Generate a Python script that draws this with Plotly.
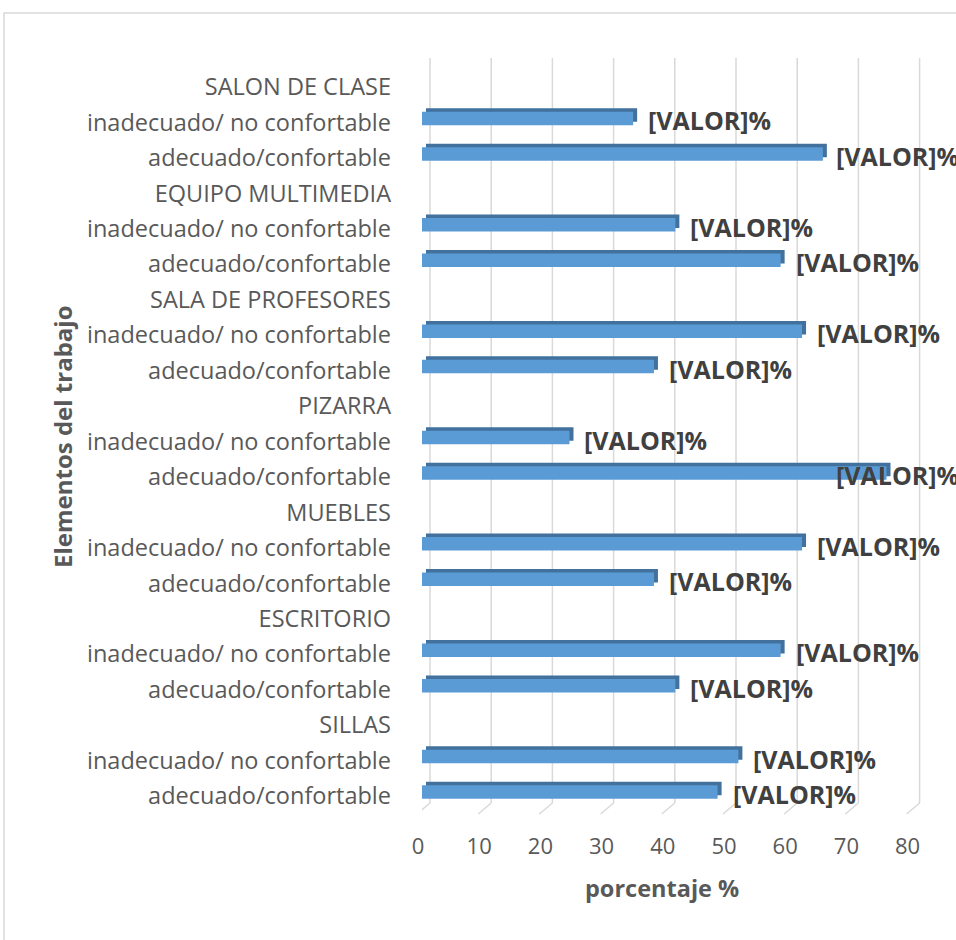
import plotly.graph_objects as go

# ---- data (bottom row first) ----
labels = [
    "adecuado/confortable", "inadecuado/ no confortable", "SILLAS",
    "adecuado/confortable", "inadecuado/ no confortable", "ESCRITORIO",
    "adecuado/confortable", "inadecuado/ no confortable", "MUEBLES",
    "adecuado/confortable", "inadecuado/ no confortable", "PIZARRA",
    "adecuado/confortable", "inadecuado/ no confortable", "SALA DE PROFESORES",
    "adecuado/confortable", "inadecuado/ no confortable", "EQUIPO MULTIMEDIA",
    "adecuado/confortable", "inadecuado/ no confortable", "SALON DE CLASE",
]
values = [
    48.3, 51.7, None,
    41.4, 58.6, None,
    37.9, 62.1, None,
    75.9, 24.1, None,
    37.9, 62.1, None,
    58.6, 41.4, None,
    65.5, 34.5, None,
]
x_ticks = [0, 10, 20, 30, 40, 50, 60, 70, 80]
label_text = "[VALOR]%"
x_title = "porcentaje %"
y_title = "Elementos del trabajo"

positions = list(range(len(labels)))

# ---- layout geometry (pixels) ----
W, H = 956, 940
L, R, T, B = 422, 34, 58, 126
plot_w = W - L - R
plot_h = H - T - B
px_x = 6.12          # pixels per x unit
px_y = 35.45         # pixels per row
x_max = plot_w / px_x
y_lo = -17 / px_y
y_hi = y_lo + plot_h / px_y

def pxx(p):
    return (p - L) / plot_w

def pxy(p):
    return (H - B - p) / plot_h

FRONT = "#5B9BD5"
DARK = "#41719C"
TXT = "#595959"
GRID = "#D9D9D9"
FONT = "Open Sans"

u = 1 / px_y
front_w = 13.5 * u
front_off = 5 * u - front_w / 2
top_h = 3.5 * u

fig = go.Figure()
# top/side faces (pseudo-3D)
fig.add_trace(go.Bar(
    y=positions, x=values, orientation="h",
    base=4 / px_x, width=front_w, offset=front_off + top_h,
    marker=dict(color=DARK, line=dict(width=0)),
    hoverinfo="skip", showlegend=False,
))
# front faces
fig.add_trace(go.Bar(
    y=positions, x=values, orientation="h",
    width=front_w, offset=front_off,
    marker=dict(color=FRONT, line=dict(width=0)),
    showlegend=False,
))

shapes = []
gy0 = 11 / plot_h
for t in x_ticks:
    shapes.append(dict(type="line", xref="x", yref="paper", xsizemode="pixel",
                       xanchor=t, x0=8, x1=8, y0=gy0, y1=1,
                       line=dict(color=GRID, width=1.5), layer="below"))
    shapes.append(dict(type="line", xref="x", yref="paper", xsizemode="pixel",
                       xanchor=t, x0=8, x1=-5, y0=gy0, y1=0,
                       line=dict(color=GRID, width=1.5), layer="below"))
# chart border
shapes.append(dict(type="rect", xref="paper", yref="paper",
                   x0=pxx(4), x1=pxx(W + 10), y0=pxy(H + 10), y1=pxy(13),
                   line=dict(color=GRID, width=1.5), layer="below"))

annotations = []
label_limit = (836 - 15 - L) / px_x
for p, v in zip(positions, values):
    if v is None:
        continue
    annotations.append(dict(
        x=min(v, label_limit), y=p, xref="x", yref="y", text=label_text,
        showarrow=False, xanchor="left", yanchor="middle", xshift=13, yshift=3,
        font=dict(family=FONT, size=25, color="#404040", weight="bold"),
    ))
annotations.append(dict(
    x=pxx(662), y=pxy(888), xref="paper", yref="paper", text=x_title,
    showarrow=False, xanchor="center", yanchor="middle",
    font=dict(family=FONT, size=23.5, color=TXT, weight="bold"),
))
annotations.append(dict(
    x=pxx(62), y=pxy(437), xref="paper", yref="paper", text=y_title,
    showarrow=False, xanchor="center", yanchor="middle", textangle=-90,
    font=dict(family=FONT, size=24, color=TXT, weight="bold"),
))

fig.update_layout(
    width=W, height=H,
    margin=dict(l=L, r=R, t=T, b=B, pad=0),
    paper_bgcolor="white", plot_bgcolor="white",
    barmode="overlay",
    shapes=shapes, annotations=annotations,
    font=dict(family=FONT, color=TXT),
    xaxis=dict(range=[0, x_max], tickvals=x_ticks, showgrid=False,
               zeroline=False, showline=False, ticks="",
               tickfont=dict(family=FONT, size=22, color=TXT),
               ticklabelstandoff=17, ticklabelshift=-4, fixedrange=True),
    yaxis=dict(range=[y_lo, y_hi], tickvals=positions, ticktext=labels,
               showgrid=False, zeroline=False, showline=False, ticks="",
               tickfont=dict(family=FONT, size=23.5, color=TXT),
               ticklabelstandoff=30, ticklabelshift=-1, fixedrange=True),
)

fig.write_html("out.html", config={"displayModeBar": False},
               post_script="document.body.style.margin='0px';")
